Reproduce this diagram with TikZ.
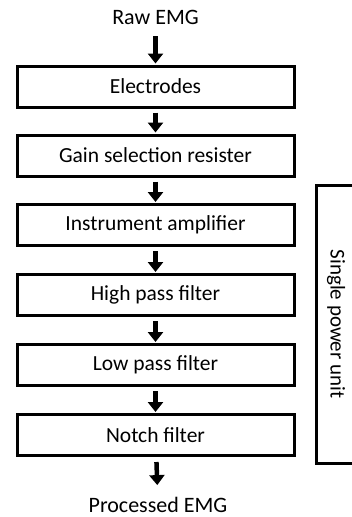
\documentclass[tikz,border=0pt]{standalone}
\usepackage{fontspec}
\setmainfont{Carlito}
\usetikzlibrary{arrows.meta}
\tikzset{
  stage/.style={draw=black, line width=3pt, minimum width=277pt, minimum height=41pt, inner sep=0pt, font=\fontsize{21.5}{25}\selectfont, fill=white},
  lbl/.style={inner sep=2pt, font=\fontsize{22}{26}\selectfont},
  flow/.style={line width=4.5pt, -{Triangle[width=15pt,length=10pt]}},
}
\begin{document}
\begin{tikzpicture}[x=1pt,y=-1pt]
\useasboundingbox (0,0) rectangle (352,517);
\node[lbl] (raw) at (155.5,17) {Raw EMG};
\node[stage] (e1) at (155.5,86.5) {Electrodes};
\node[stage] (e2) at (155.5,155.5) {Gain selection resister};
\node[stage] (e3) at (155.5,225) {Instrument amplifier};
\node[stage] (e4) at (155.5,295) {High pass filter};
\node[stage] (e5) at (155.5,365) {Low pass filter};
\node[stage] (e6) at (155.5,435) {Notch filter};
\node[lbl] (out) at (158,505) {Processed EMG};
\begin{scope}
\clip (0,0) rectangle (352,517);
\draw[line width=3pt] (316,185) rectangle (360,463);
\end{scope}
\node[lbl, font=\fontsize{21}{25}\selectfont, rotate=-90] (pwr) at (336,324) {Single power unit};
\draw[flow, shorten <=10pt, shorten >=1pt] (raw) -- (e1);
\draw[flow, shorten <=4pt, shorten >=1pt] (e1) -- (e2);
\draw[flow, shorten <=4pt, shorten >=1pt] (e2) -- (e3);
\draw[flow, shorten <=4pt, shorten >=1pt] (e3) -- (e4);
\draw[flow, shorten <=4pt, shorten >=1pt] (e4) -- (e5);
\draw[flow, shorten <=4pt, shorten >=1pt] (e5) -- (e6);
\draw[flow, shorten <=5pt, shorten >=10pt] (e6) -- (out);
\end{tikzpicture}
\end{document}
